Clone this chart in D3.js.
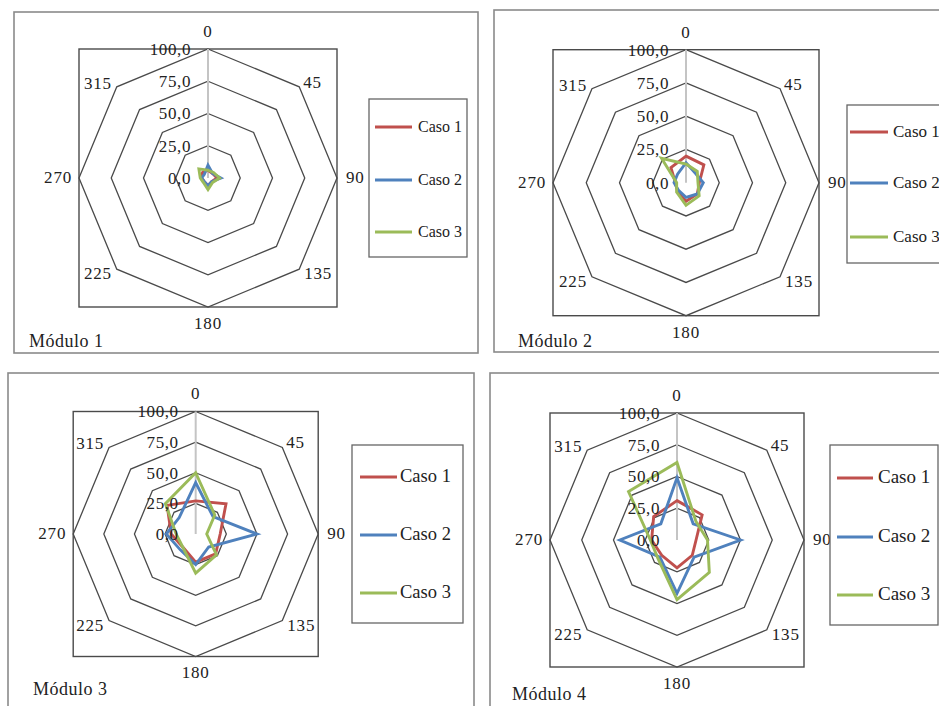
<!DOCTYPE html>
<html>
<head>
<meta charset="utf-8">
<script src="https://cdn.jsdelivr.net/npm/d3@7"></script>
<style>
  html, body { margin: 0; padding: 0; background: #fff; }
  svg { display: block; }
  text { font-family: "Liberation Serif", "Times New Roman", serif; fill: #222; }
</style>
</head>
<body>
<svg id="chart" width="939" height="706"></svg>
<script>
// ---- data ----
const angleLabels = ["0", "45", "90", "135", "180", "225", "270", "315"];
const ringTicks = [0, 25, 50, 75, 100];
const ringTickLabels = ["0,0", "25,0", "50,0", "75,0", "100,0"];
const seriesNames = ["Caso 1", "Caso 2", "Caso 3"];
const moduleTitles = ["Módulo 1", "Módulo 2", "Módulo 3", "Módulo 4"];

const modulo1Caso1 = [6, 5, 7, 4, 6, 4, 5, 6];
const modulo1Caso2 = [10, 5, 10, 4, 6, 4, 5, 4];
const modulo1Caso3 = [6, 6, 9, 5, 9, 5, 6, 10];

const modulo2Caso1 = [20, 19, 10, 12, 14, 9, 8, 16];
const modulo2Caso2 = [15, 10, 13, 12, 11, 8, 9, 9];
const modulo2Caso3 = [14, 12, 9, 14, 17, 10, 7, 26];

const modulo3Caso1 = [27, 35, 20, 23, 23, 15, 20, 33];
const modulo3Caso2 = [42, 20, 50, 15, 25, 18, 24, 19];
const modulo3Caso3 = [50, 22, 9, 24, 32, 15, 16, 35];

const modulo4Caso1 = [31, 28, 15, 17, 22, 17, 20, 26];
const modulo4Caso2 = [49, 18, 50, 19, 42, 19, 45, 18];
const modulo4Caso3 = [61, 21, 24, 36, 47, 21, 21, 54];

const moduleSeries = [
  [modulo1Caso1, modulo1Caso2, modulo1Caso3],
  [modulo2Caso1, modulo2Caso2, modulo2Caso3],
  [modulo3Caso1, modulo3Caso2, modulo3Caso3],
  [modulo4Caso1, modulo4Caso2, modulo4Caso3]
];

// ---- styles / layout ----
const seriesColors = ["#c0504d", "#4f81bd", "#9bbb59"];
const gridColor = "#4a4a4a";
const layouts = [
  { cx: 208, cy: 178, r: 129, panel: [14, 12, 478, 353],
    legend: { x: 369, y: 99, w: 98, h: 158, rows: [127, 180, 232], lx: [375, 412], tx: 418, fs: 16 },
    title: { x: 29, y: 347 } },
  { cx: 686, cy: 182.7, r: 133, panel: [494, 10, 950, 352],
    legend: { x: 847, y: 105, w: 110, h: 158, rows: [132, 183, 237], lx: [850, 888], tx: 893, fs: 17 },
    title: { x: 518, y: 347 } },
  { cx: 195.7, cy: 534, r: 122.5, panel: [8, 373, 474, 720],
    legend: { x: 352, y: 445, w: 111, h: 178, rows: [477, 535, 593], lx: [360, 397], tx: 400, fs: 18.5 },
    title: { x: 33, y: 695 } },
  { cx: 677, cy: 540, r: 127, panel: [490, 373, 950, 720],
    legend: { x: 830, y: 445, w: 108, h: 180, rows: [478, 537, 595], lx: [837, 873], tx: 878, fs: 19 },
    title: { x: 512, y: 700 } }
];

const svg = d3.select("#chart");
const n = angleLabels.length;
const angleScale = d3.scaleLinear().domain([0, n]).range([0, 2 * Math.PI]);

layouts.forEach((L, mi) => {
  const g = svg.append("g");
  const rScale = d3.scaleLinear().domain([0, 100]).range([0, L.r]);
  const [px0, py0, px1, py1] = L.panel;

  // panel border
  g.append("rect").attr("x", px0).attr("y", py0)
    .attr("width", px1 - px0).attr("height", py1 - py0)
    .attr("fill", "#fff").attr("stroke", "#8a8a8a").attr("stroke-width", 1.6);

  // plot area border
  g.append("rect").attr("x", L.cx - L.r).attr("y", L.cy - L.r)
    .attr("width", 2 * L.r).attr("height", 2 * L.r)
    .attr("fill", "none").attr("stroke", gridColor).attr("stroke-width", 1.4);

  const plot = g.append("g").attr("transform", `translate(${L.cx},${L.cy})`);

  // grid octagons
  const ringLine = d3.lineRadial()
    .angle((d, i) => angleScale(i))
    .radius(d => rScale(d))
    .curve(d3.curveLinearClosed);
  ringTicks.filter(t => t > 0).forEach(t => {
    plot.append("path").attr("d", ringLine(d3.range(n).map(() => t)))
      .attr("fill", "none").attr("stroke", gridColor).attr("stroke-width", 1.3);
  });

  // radial value axis (vertical)
  plot.append("line").attr("x1", 0).attr("y1", 0).attr("x2", 0).attr("y2", -rScale(100))
    .attr("stroke", "#c4c4c4").attr("stroke-width", 2);

  // series
  const seriesLine = d3.lineRadial()
    .angle((d, i) => angleScale(i))
    .radius(d => rScale(d))
    .curve(d3.curveLinearClosed);
  moduleSeries[mi].forEach((vals, si) => {
    plot.append("path").attr("d", seriesLine(vals))
      .attr("fill", "none").attr("stroke", seriesColors[si])
      .attr("stroke-width", 2.9).attr("stroke-linejoin", "miter");
  });

  // ring tick labels
  ringTicks.forEach((t, i) => {
    plot.append("text").attr("x", -17).attr("y", -rScale(t) + 2)
      .attr("text-anchor", "end").attr("dominant-baseline", "middle")
      .attr("font-size", 17).attr("letter-spacing", 0.6)
      .text(ringTickLabels[i]);
  });

  // angle labels
  const R = L.r;
  const d45 = R * Math.SQRT1_2;
  const angPos = [
    { x: 0, y: -R - 16, a: "middle" },
    { x: d45 + 4, y: -d45 - 3, a: "start" },
    { x: R + 9, y: 1, a: "start" },
    { x: d45 + 5, y: d45 + 6, a: "start" },
    { x: 0, y: R + 18, a: "middle" },
    { x: -d45 - 5, y: d45 + 6, a: "end" },
    { x: -R - 7, y: 1, a: "end" },
    { x: -d45 - 5, y: -d45 - 2, a: "end" }
  ];
  angleLabels.forEach((lab, i) => {
    plot.append("text").attr("x", angPos[i].x).attr("y", angPos[i].y)
      .attr("text-anchor", angPos[i].a).attr("dominant-baseline", "middle")
      .attr("font-size", 17).attr("letter-spacing", 0.8)
      .text(lab);
  });

  // legend
  const Lg = L.legend;
  g.append("rect").attr("x", Lg.x).attr("y", Lg.y).attr("width", Lg.w).attr("height", Lg.h)
    .attr("fill", "#fff").attr("stroke", "#666").attr("stroke-width", 1.3);
  seriesNames.forEach((name, si) => {
    g.append("line").attr("x1", Lg.lx[0]).attr("x2", Lg.lx[1])
      .attr("y1", Lg.rows[si]).attr("y2", Lg.rows[si])
      .attr("stroke", seriesColors[si]).attr("stroke-width", 2.9);
    g.append("text").attr("x", Lg.tx).attr("y", Lg.rows[si] + 1)
      .attr("dominant-baseline", "middle").attr("font-size", Lg.fs)
      .text(name);
  });

  // title
  g.append("text").attr("x", L.title.x).attr("y", L.title.y)
    .attr("font-size", 18).attr("letter-spacing", 0.5)
    .text(moduleTitles[mi]);
});
</script>
</body>
</html>
